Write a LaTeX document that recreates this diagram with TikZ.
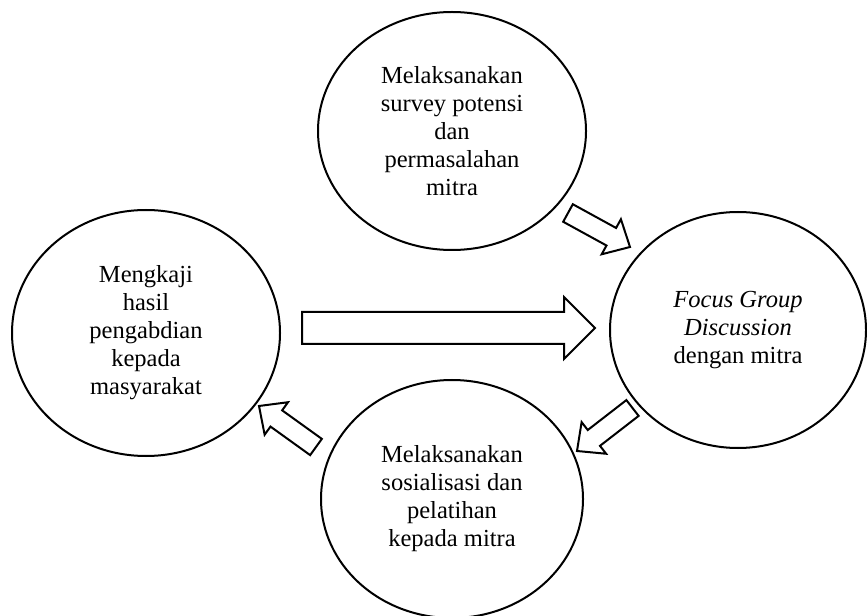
\documentclass[tikz,border=0pt]{standalone}
\usepackage{fontspec}
\setmainfont{Liberation Serif}
\usetikzlibrary{shapes.geometric,calc}
% tail, tip, shaft half width, head half width, head length
\newcommand\blockarrow[5]{%
  \coordinate (#1-#2-h) at ($(#2)!#5!(#1)$);
  \draw[barrow] ($(#1)!#3!90:(#2)$) -- ($(#1-#2-h)!#3!-90:(#1)$) -- ($(#1-#2-h)!#4!-90:(#1)$) -- (#2) -- ($(#1-#2-h)!#4!90:(#1)$) -- ($(#1-#2-h)!#3!90:(#1)$) -- ($(#1)!#3!-90:(#2)$) -- cycle;}
\begin{document}
\begin{tikzpicture}[x=0.75pt,y=-0.75pt,
  bubble/.style={ellipse, draw, line width=1.5pt, inner sep=0pt, align=center,
    font=\fontsize{18.4}{21}\selectfont},
  barrow/.style={draw, line width=1.5pt, line join=miter, fill=white}]
\useasboundingbox (0,0) rectangle (867,616);
\node[bubble, minimum width=201pt, minimum height=178.5pt] (survey) at (452,131)
  {Melaksanakan\\survey potensi\\dan\\permasalahan\\mitra};
\node[bubble, minimum width=201pt, minimum height=184.5pt] (kaji) at (146,333)
  {Mengkaji\\hasil\\pengabdian\\kepada\\masyarakat};
\node[bubble, minimum width=192pt, minimum height=177pt] (fgd) at (738,330)
  {\itshape Focus Group\\\itshape Discussion\\dengan mitra};
\node[bubble, minimum width=196.5pt, minimum height=178.5pt] (sos) at (452,499)
  {Melaksanakan\\sosialisasi dan\\pelatihan\\kepada mitra};
\coordinate (t0) at (302,328); \coordinate (h0) at (595,328);
\coordinate (t1) at (568,213); \coordinate (h1) at (630,247);
\coordinate (t2) at (632.5,408); \coordinate (h2) at (577,451);
\coordinate (t3) at (316,447); \coordinate (h3) at (259,406);
\blockarrow{t0}{h0}{12pt}{23.25pt}{23.25pt}
\blockarrow{t1}{h1}{7.5pt}{15pt}{16pt}
\blockarrow{t2}{h2}{7.5pt}{15pt}{16pt}
\blockarrow{t3}{h3}{7.5pt}{15pt}{16pt}
\end{tikzpicture}
\end{document}
